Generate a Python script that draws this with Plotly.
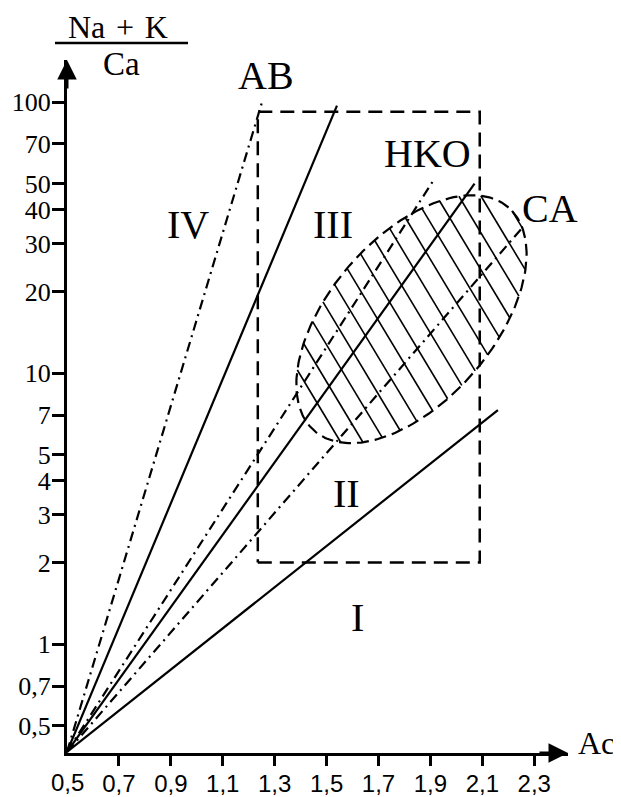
import numpy as np
import plotly.graph_objects as go

# ---------------- data ----------------
origin_ac = 0.5
origin_ratio = 0.4

line_names = ["IV / III", "III (upper)", "HKO", "III / II", "CA axis", "II / I"]
line_end_ac = [1.25, 1.54, 1.915, 2.07, 2.25, 2.16]
line_end_ratio = [99, 97, 52, 50, 34, 7.3]
line_styles = ["dashdot", "solid", "dashdot", "solid", "dashdot", "solid"]

rect_ac = [1.235, 2.09]
rect_ratio = [2.0, 92.0]

# CA field: ellipse (centre in data units, axes in screen pixels, tilt in degrees)
ca_center_ac = 1.827
ca_center_ratio = 15.8
ca_semi_major_px = 148
ca_semi_minor_px = 82
ca_tilt_deg = 49
hatch_angle_deg = -59
hatch_spacing_px = 19

x_tick_vals = [0.7, 0.9, 1.1, 1.3, 1.5, 1.7, 1.9, 2.1, 2.3]
x_tick_text = ["0,7", "0,9", "1,1", "1,3", "1,5", "1,7", "1,9", "2,1", "2,3"]
y_tick_vals = [0.5, 0.7, 1, 2, 3, 4, 5, 7, 10, 20, 30, 40, 50, 70, 100]
y_tick_text = ["0,5", "0,7", "1", "2", "3", "4", "5", "7", "10", "20", "30", "40", "50", "70", "100"]

region_labels = ["IV", "III", "II", "I", "AB", "HKO", "CA"]
region_label_ac = [0.965, 1.523, 1.575, 1.62, 1.266, 1.888, 2.36]
region_label_ratio = [35.2, 35.2, 3.58, 1.25, 125, 64.3, 40.6]

# ---------------- layout geometry (page pixels) ----------------
W, H = 621, 797
OFF = 8                      # default page body margin of the html output
ML, MR, MT, MB = 67, 53, 60, 44
x_range = [0.5, 2.43]
y_range = [-0.402, 2.155]
plot_w = W - ML - MR
plot_h = H - MT - MB
sx = plot_w / (x_range[1] - x_range[0])
sy = plot_h / (y_range[1] - y_range[0])

SERIF = "Liberation Serif, Times New Roman, serif"
SANS = "Liberation Sans, Arial, sans-serif"

fig = go.Figure()

# rays from the origin
for name, xa, ya, st in zip(line_names, line_end_ac, line_end_ratio, line_styles):
    dash = "solid" if st == "solid" else "10px,5px,2px,5px"
    fig.add_trace(go.Scatter(x=[origin_ac, xa], y=[origin_ratio, ya], mode="lines",
                             line=dict(color="black", width=2.2, dash=dash),
                             name=name, showlegend=False, hoverinfo="skip"))

# dashed rectangle
fig.add_trace(go.Scatter(
    x=[rect_ac[0], rect_ac[1], rect_ac[1], rect_ac[0], rect_ac[0]],
    y=[rect_ratio[0], rect_ratio[0], rect_ratio[1], rect_ratio[1], rect_ratio[0]],
    mode="lines", line=dict(color="black", width=2.5, dash="14px,8px"),
    showlegend=False, hoverinfo="skip"))

# ellipse CA in screen-like coordinates (X right, Y up)
cX = (ca_center_ac - x_range[0]) * sx
cY = np.log10(ca_center_ratio) * sy
th = np.radians(ca_tilt_deg)
e1 = np.array([np.cos(th), np.sin(th)])
e2 = np.array([-np.sin(th), np.cos(th)])
a, b = ca_semi_major_px, ca_semi_minor_px


def to_data(X, Y):
    return x_range[0] + np.asarray(X) / sx, 10 ** (np.asarray(Y) / sy)


t = np.linspace(0, 2 * np.pi, 241)
EX = cX + a * np.cos(t) * e1[0] + b * np.sin(t) * e2[0]
EY = cY + a * np.cos(t) * e1[1] + b * np.sin(t) * e2[1]

# hatch lines clipped to the ellipse
ha = np.radians(hatch_angle_deg)
d = np.array([np.cos(ha), np.sin(ha)])
n = np.array([-d[1], d[0]])
hx, hy = [], []
un, ud = n @ e1, d @ e1
vn, vd = n @ e2, d @ e2
for s in np.arange(-200, 200.1, hatch_spacing_px):
    A = ud ** 2 / a ** 2 + vd ** 2 / b ** 2
    B = 2 * (s * un * ud / a ** 2 + s * vn * vd / b ** 2)
    C = (s * un) ** 2 / a ** 2 + (s * vn) ** 2 / b ** 2 - 1
    disc = B * B - 4 * A * C
    if disc <= 0:
        continue
    for tt in [(-B - np.sqrt(disc)) / (2 * A), (-B + np.sqrt(disc)) / (2 * A)]:
        X = cX + s * n[0] + tt * d[0]
        Y = cY + s * n[1] + tt * d[1]
        xd, yd = to_data(X, Y)
        hx.append(float(xd)); hy.append(float(yd))
    hx.append(None); hy.append(None)

fig.add_trace(go.Scatter(x=hx, y=hy, mode="lines", line=dict(color="black", width=1.6),
                         showlegend=False, hoverinfo="skip"))
ex, ey = to_data(EX, EY)
fig.add_trace(go.Scatter(x=ex, y=ey, mode="lines",
                         line=dict(color="black", width=2.2, dash="12px,6px"),
                         showlegend=False, hoverinfo="skip"))

# region labels
for txt, xa, ya in zip(region_labels, region_label_ac, region_label_ratio):
    fig.add_annotation(x=xa, y=np.log10(ya), text=txt, showarrow=False,
                       font=dict(family=SERIF, size=40, color="black"),
                       xanchor="center", yanchor="middle")

# axis arrows
fig.add_annotation(xref="paper", yref="paper", x=0, y=1, ax=0, ay=30, text="",
                   showarrow=True, arrowhead=2, arrowsize=1.3, arrowwidth=3,
                   arrowcolor="black", standoff=0)
fig.add_annotation(xref="paper", yref="paper", x=1, y=0, ax=-30, ay=0, text="",
                   showarrow=True, arrowhead=2, arrowsize=1.3, arrowwidth=3,
                   arrowcolor="black", standoff=0)


def px_to_paper(px, py):
    return (px - ML) / plot_w, (H - MB - py) / plot_h


# axis titles
tx, ty = px_to_paper(118, 27)
fig.add_annotation(xref="paper", yref="paper", x=tx, y=ty,
                   text="Na\u2004+\u2004K", showarrow=False,
                   font=dict(family=SERIF, size=32, color="black"),
                   xanchor="center", yanchor="middle")
tx, ty = px_to_paper(121, 64)
fig.add_annotation(xref="paper", yref="paper", x=tx, y=ty,
                   text="Ca", showarrow=False, font=dict(family=SERIF, size=33, color="black"),
                   xanchor="center", yanchor="middle")
bx0, by = px_to_paper(55, 43)
bx1, _ = px_to_paper(188, 43)
fig.add_shape(type="line", xref="paper", yref="paper", x0=bx0, x1=bx1, y0=by, y1=by,
              line=dict(color="black", width=2.5))
tx, ty = px_to_paper(596, 743)
fig.add_annotation(xref="paper", yref="paper", x=tx, y=ty, text="Ac", showarrow=False,
                   font=dict(family=SERIF, size=32, color="black"),
                   xanchor="center", yanchor="middle")
fig.add_annotation(x=origin_ac, yref="paper", y=0, yshift=-29, text="0,5", showarrow=False,
                   font=dict(family=SANS, size=24, color="black"),
                   xanchor="center", yanchor="middle")

fig.update_xaxes(range=x_range, showline=True, linewidth=3, linecolor="black",
                 ticks="outside", ticklen=10, tickwidth=2.5, tickcolor="black",
                 tickvals=x_tick_vals, ticktext=x_tick_text, showgrid=False, zeroline=False,
                 tickfont=dict(family=SANS, size=24, color="black"), ticklabelstandoff=-3,
                 automargin=False)
fig.update_yaxes(type="log", range=y_range, showline=True, linewidth=3, linecolor="black",
                 ticks="outside", ticklen=12, tickwidth=2.5, tickcolor="black",
                 tickvals=y_tick_vals, ticktext=y_tick_text, showgrid=False, zeroline=False,
                 tickfont=dict(family=SERIF, size=26, color="black"), ticklabelstandoff=-4,
                 automargin=False)

fig.update_layout(width=W - OFF, height=H - OFF, autosize=False,
                  margin=dict(l=ML - OFF, r=MR, t=MT - OFF, b=MB, pad=0),
                  plot_bgcolor="white", paper_bgcolor="white", showlegend=False)

fig.write_html("out.html")
